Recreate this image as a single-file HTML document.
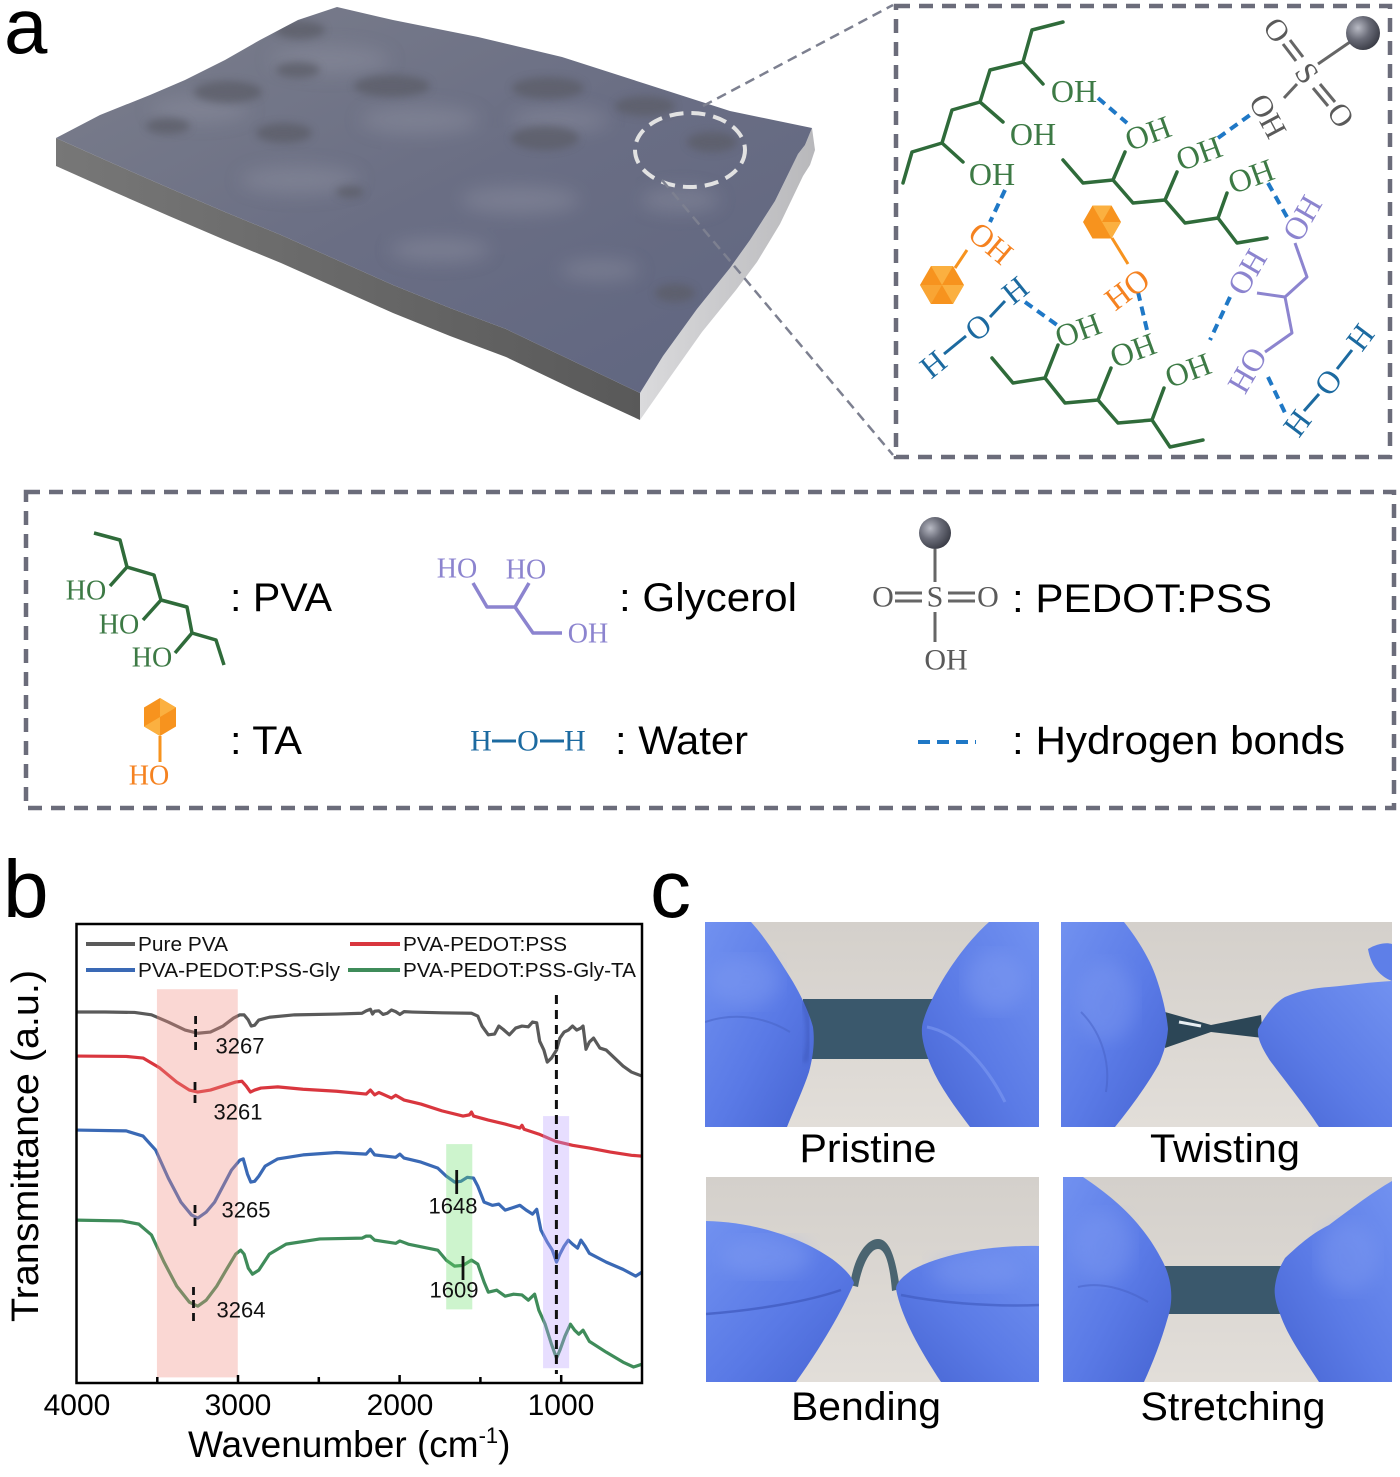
<!DOCTYPE html>
<html><head><meta charset="utf-8"><style>
html,body{margin:0;padding:0;background:#fff;}
svg{display:block;}
</style></head><body>
<svg width="1400" height="1477" viewBox="0 0 1400 1477" xmlns="http://www.w3.org/2000/svg">
<defs>
  <linearGradient id="topG" x1="0" y1="0" x2="1" y2="1">
    <stop offset="0" stop-color="#7c7f8c"/><stop offset="0.5" stop-color="#6a6e84"/><stop offset="1" stop-color="#5f6580"/>
  </linearGradient>
  <linearGradient id="leftG" x1="0" y1="0" x2="1" y2="0">
    <stop offset="0" stop-color="#777"/><stop offset="1" stop-color="#595959"/>
  </linearGradient>
  <linearGradient id="rightG" x1="0" y1="0" x2="1" y2="0">
    <stop offset="0" stop-color="#dadadc"/><stop offset="1" stop-color="#b8b8bb"/>
  </linearGradient>
  <radialGradient id="ball" cx="0.35" cy="0.35" r="0.7">
    <stop offset="0" stop-color="#b8bac4"/><stop offset="0.5" stop-color="#6a6c78"/><stop offset="1" stop-color="#3a3c46"/>
  </radialGradient>
  <filter id="blur8"><feGaussianBlur stdDeviation="9"/></filter>
  <filter id="blur3"><feGaussianBlur stdDeviation="4"/></filter>
  <filter id="blur2"><feGaussianBlur stdDeviation="2.5"/></filter>
  <clipPath id="topClip"><path d="M56,138 L100,115 L150,95 L185,80 L225,60 L260,40 L298,20 L337,7 L393,20 L478,37 L562,57 L646,84 L730,111 L812,128 L805,145 L798,154 L775,201 L750,240 L730,268 L697,309 L663,356 L640,393 L575,362 L506,329 L450,308 L393,285 L337,260 L281,235 L225,212 L169,188 L112,163 Z"/></clipPath>
  <linearGradient id="bg" x1="0" y1="0" x2="0" y2="1">
    <stop offset="0" stop-color="#d4d0cb"/><stop offset="1" stop-color="#e2ded9"/>
  </linearGradient>
  <linearGradient id="glove" x1="0" y1="0" x2="1" y2="1">
    <stop offset="0" stop-color="#7191f0"/><stop offset="0.55" stop-color="#5a7ae6"/><stop offset="1" stop-color="#4664d2"/>
  </linearGradient>
  <linearGradient id="glove2" x1="1" y1="0" x2="0" y2="1">
    <stop offset="0" stop-color="#7191f0"/><stop offset="0.55" stop-color="#5b7be6"/><stop offset="1" stop-color="#4664d2"/>
  </linearGradient>
  <clipPath id="ph1"><rect x="0" y="0" width="334" height="205"/></clipPath>
  <clipPath id="ph2"><rect x="0" y="0" width="331" height="205"/></clipPath>
  <clipPath id="ph3"><rect x="0" y="0" width="333" height="205"/></clipPath>
  <clipPath id="ph4"><rect x="0" y="0" width="329" height="205"/></clipPath>
</defs>

<rect width="1400" height="1477" fill="#fff"/>

<!-- ===== Panel a ===== -->
<text x="4" y="53" font-family="Liberation Sans, sans-serif" font-size="78" fill="#000">a</text>

<!-- slab -->
<path d="M56,138 L112,163 L169,188 L225,212 L281,235 L337,260 L393,285 L450,308 L506,329 L575,362 L640,393 L640,420 L575,390 L506,357 L450,336 L393,313 L337,288 L281,263 L225,240 L169,216 L112,191 L56,166 Z" fill="url(#leftG)"/>
<path d="M812,128 L805,145 L798,154 L775,201 L750,240 L730,268 L697,309 L663,356 L640,393 L640,420 L668,380 L702,332 L736,290 L757,262 L780,224 L803,176 L810,165 L815,150 Z" fill="url(#rightG)"/>
<path d="M56,138 L100,115 L150,95 L185,80 L225,60 L260,40 L298,20 L337,7 L393,20 L478,37 L562,57 L646,84 L730,111 L812,128 L805,145 L798,154 L775,201 L750,240 L730,268 L697,309 L663,356 L640,393 L575,362 L506,329 L450,308 L393,285 L337,260 L281,235 L225,212 L169,188 L112,163 Z" fill="url(#topG)"/>
<g clip-path="url(#topClip)">
  <g filter="url(#blur8)" fill="#8f92a2" opacity="0.45">
    <ellipse cx="330" cy="60" rx="60" ry="14"/>
    <ellipse cx="200" cy="110" rx="50" ry="12"/>
    <ellipse cx="420" cy="120" rx="60" ry="14"/>
    <ellipse cx="560" cy="120" rx="50" ry="12"/>
    <ellipse cx="300" cy="180" rx="60" ry="14"/>
    <ellipse cx="520" cy="200" rx="60" ry="14"/>
    <ellipse cx="680" cy="200" rx="40" ry="12"/>
    <ellipse cx="440" cy="250" rx="50" ry="12"/>
    <ellipse cx="600" cy="270" rx="40" ry="10"/>
  </g>
  <g filter="url(#blur3)" fill="#5b5d68" opacity="0.75">
    <ellipse cx="392" cy="86" rx="38" ry="11"/>
    <ellipse cx="298" cy="70" rx="22" ry="8"/>
    <ellipse cx="548" cy="88" rx="36" ry="11"/>
    <ellipse cx="228" cy="92" rx="34" ry="11"/>
    <ellipse cx="545" cy="138" rx="34" ry="12"/>
    <ellipse cx="284" cy="133" rx="28" ry="10"/>
    <ellipse cx="168" cy="126" rx="22" ry="8"/>
    <ellipse cx="645" cy="106" rx="30" ry="10"/>
    <ellipse cx="712" cy="142" rx="25" ry="10"/>
    <ellipse cx="350" cy="192" rx="14" ry="6"/>
    <ellipse cx="675" cy="293" rx="20" ry="9"/>
    <ellipse cx="300" cy="30" rx="25" ry="9"/>
  </g>
</g>
<ellipse cx="690" cy="150" rx="55" ry="37" fill="none" stroke="#e2e2e2" stroke-width="4" stroke-dasharray="14 8"/>
<line x1="703" y1="106" x2="893" y2="5" stroke="#7d8090" stroke-width="2.5" stroke-dasharray="10 6"/>
<line x1="662" y1="180" x2="893" y2="455" stroke="#7d8090" stroke-width="2.5" stroke-dasharray="10 6"/>

<!-- inset box -->
<rect x="896" y="6" width="494" height="451" fill="none" stroke="#6b6c7a" stroke-width="4.5" stroke-dasharray="14 9"/>

<!-- H-bonds inset -->
<g stroke="#1f78c6" stroke-width="4" stroke-dasharray="9 6" fill="none">
  <line x1="1098" y1="98" x2="1127" y2="123"/>
  <line x1="1218" y1="138" x2="1250" y2="115"/>
  <line x1="1005" y1="190" x2="990" y2="222"/>
  <line x1="1268" y1="183" x2="1287" y2="217"/>
  <line x1="1025" y1="302" x2="1057" y2="325"/>
  <line x1="1138" y1="292" x2="1147" y2="330"/>
  <line x1="1230" y1="297" x2="1210" y2="340"/>
  <line x1="1268" y1="377" x2="1287" y2="417"/>
</g>

<!-- PVA chains -->
<g stroke="#2f6b3a" stroke-width="3.5" fill="none" stroke-linejoin="round" stroke-linecap="round">
  <polyline points="903,183 912,152 942,143 952,110 980,102 990,70 1023,62 1032,30 1063,22"/>
  <line x1="942" y1="143" x2="963" y2="162"/><line x1="980" y1="102" x2="1003" y2="122"/><line x1="1023" y1="62" x2="1043" y2="84"/>
  <polyline points="1063,160 1083,183 1113,180 1133,203 1165,200 1185,223 1218,218 1237,243 1267,238"/>
  <line x1="1113" y1="180" x2="1125" y2="152"/><line x1="1165" y1="200" x2="1177" y2="172"/><line x1="1218" y1="218" x2="1227" y2="193"/>
  <polyline points="992,358 1013,383 1045,378 1065,403 1098,400 1118,423 1152,420 1170,447 1203,440"/>
  <line x1="1045" y1="378" x2="1058" y2="345"/><line x1="1098" y1="400" x2="1111" y2="368"/><line x1="1152" y1="420" x2="1164" y2="388"/>
</g>
<g font-family="Liberation Serif, serif" font-size="32" fill="#3d7a45" text-anchor="middle" dominant-baseline="central">
  <text x="992" y="174">OH</text>
  <text x="1033" y="134">OH</text>
  <text x="1074" y="91">OH</text>
  <text transform="translate(1148,133) rotate(-20)">OH</text>
  <text transform="translate(1199,153) rotate(-20)">OH</text>
  <text transform="translate(1251,176) rotate(-20)">OH</text>
  <text transform="translate(1078,330) rotate(-20)">OH</text>
  <text transform="translate(1133,350) rotate(-20)">OH</text>
  <text transform="translate(1188,370) rotate(-20)">OH</text>
</g>

<!-- PSS inset -->
<g stroke="#666" stroke-width="3" fill="none">
  <line x1="1318" y1="64" x2="1350" y2="42"/>
  <line x1="1283" y1="44" x2="1296" y2="61"/><line x1="1290" y1="40" x2="1303" y2="57"/>
  <line x1="1313" y1="88" x2="1328" y2="106"/><line x1="1320" y1="84" x2="1335" y2="102"/>
  <line x1="1297" y1="84" x2="1284" y2="98"/>
</g>
<circle cx="1363" cy="33" r="17" fill="url(#ball)"/>
<g font-family="Liberation Serif, serif" font-size="31" fill="#5a5a5a" text-anchor="middle" dominant-baseline="central">
  <text transform="translate(1277,30) rotate(55)">O</text>
  <text transform="translate(1307,73) rotate(55)">S</text>
  <text transform="translate(1341,115) rotate(55)">O</text>
  <text transform="translate(1268,116) rotate(62)">OH</text>
</g>

<!-- TA inset -->
<g>
  <polygon points="920,285 931,266 953,266 964,285 953,304 931,304" fill="#f7931e"/>
  <polygon points="942,285 931,266 953,266" fill="#fbb040"/>
  <polygon points="942,285 964,285 953,304" fill="#fbb040"/>
  <polygon points="942,285 920,285 931,304" fill="#f9a534"/>
  <line x1="955" y1="268" x2="967" y2="250" stroke="#f7931e" stroke-width="3"/>
  <polygon points="1083,222 1092.5,205.5 1111.5,205.5 1121,222 1111.5,238.5 1092.5,238.5" fill="#f7931e"/>
  <polygon points="1102,222 1092.5,205.5 1111.5,205.5" fill="#fbb040"/>
  <polygon points="1102,222 1121,222 1111.5,238.5" fill="#fbb040"/>
  <line x1="1112" y1="238" x2="1128" y2="264" stroke="#f7931e" stroke-width="3"/>
</g>
<g font-family="Liberation Serif, serif" font-size="32" fill="#f58220" text-anchor="middle" dominant-baseline="central">
  <text transform="translate(991,243) rotate(40)">OH</text>
  <text transform="translate(1127,289) rotate(-37)">HO</text>
</g>

<!-- Water inset -->
<g stroke="#1c6aa0" stroke-width="3">
  <line x1="944" y1="354" x2="966" y2="336"/><line x1="990" y1="317" x2="1005" y2="301"/>
  <line x1="1304" y1="411" x2="1319" y2="394"/><line x1="1337" y1="369" x2="1352" y2="350"/>
</g>
<g font-family="Liberation Serif, serif" font-size="32" fill="#1c6aa0" text-anchor="middle" dominant-baseline="central">
  <text transform="translate(933,364) rotate(-39)">H</text>
  <text transform="translate(978,327) rotate(-39)">O</text>
  <text transform="translate(1015,290) rotate(-39)">H</text>
  <text transform="translate(1297,423) rotate(-53)">H</text>
  <text transform="translate(1328,382) rotate(-53)">O</text>
  <text transform="translate(1360,337) rotate(-53)">H</text>
</g>

<!-- Glycerol inset -->
<g stroke="#8c84cf" stroke-width="3" fill="none" stroke-linejoin="round">
  <polyline points="1295,243 1307,277 1285,297 1292,333 1265,352"/>
  <line x1="1285" y1="297" x2="1257" y2="293"/>
</g>
<g font-family="Liberation Serif, serif" font-size="32" fill="#8c84cf" text-anchor="middle" dominant-baseline="central">
  <text transform="translate(1302,218) rotate(-60)">OH</text>
  <text transform="translate(1247,272) rotate(-60)">OH</text>
  <text transform="translate(1247,370) rotate(-60)">HO</text>
</g>

<!-- ===== Legend box ===== -->
<rect x="26" y="492" width="1368" height="316" fill="none" stroke="#6b6c7a" stroke-width="4.5" stroke-dasharray="14 9"/>

<g stroke="#2f6b3a" stroke-width="3.5" fill="none" stroke-linejoin="round">
  <polyline points="94,533 120,540 127,567 154,575 161,600 187,607 192,633 216,640 224,665"/>
  <line x1="127" y1="567" x2="110" y2="586"/><line x1="161" y1="600" x2="143" y2="620"/><line x1="192" y1="633" x2="175" y2="653"/>
</g>
<g font-family="Liberation Serif, serif" font-size="28" fill="#3d7a45" text-anchor="middle" dominant-baseline="central">
  <text x="86" y="591">HO</text><text x="119" y="625">HO</text><text x="152" y="658">HO</text>
</g>
<g stroke="#8c84cf" stroke-width="3.5" fill="none" stroke-linejoin="round">
  <polyline points="473,583 487,607 515,607 529,583"/>
  <polyline points="515,607 533,633 562,633"/>
</g>
<g font-family="Liberation Serif, serif" font-size="28" fill="#8c84cf" text-anchor="middle" dominant-baseline="central">
  <text x="457" y="569">HO</text><text x="526" y="570">HO</text><text x="588" y="634">OH</text>
</g>
<circle cx="935" cy="533" r="16" fill="url(#ball)"/>
<g stroke="#666" stroke-width="3">
  <line x1="935" y1="549" x2="935" y2="582"/>
  <line x1="935" y1="612" x2="935" y2="642"/>
  <line x1="895" y1="593" x2="922" y2="593"/><line x1="895" y1="601" x2="922" y2="601"/>
  <line x1="948" y1="593" x2="975" y2="593"/><line x1="948" y1="601" x2="975" y2="601"/>
</g>
<g font-family="Liberation Serif, serif" font-size="30" fill="#5a5a5a" text-anchor="middle" dominant-baseline="central">
  <text x="883" y="597">O</text><text x="935" y="597">S</text><text x="988" y="597">O</text><text x="946" y="660">OH</text>
</g>
<polygon points="160,698 176,707.5 176,726.5 160,736 144,726.5 144,707.5" fill="#f7931e"/>
<polygon points="160,717 160,698 176,707.5" fill="#fbb040"/>
<polygon points="160,717 144,726.5 160,736" fill="#fbb040"/>
<line x1="160" y1="736" x2="160" y2="762" stroke="#f7931e" stroke-width="3"/>
<text x="149" y="776" font-family="Liberation Serif, serif" font-size="28" fill="#f58220" text-anchor="middle" dominant-baseline="central">HO</text>
<g font-family="Liberation Serif, serif" font-size="30" fill="#1c6aa0" text-anchor="middle" dominant-baseline="central">
  <text x="481" y="741">H</text><text x="528" y="741">O</text><text x="575" y="741">H</text>
</g>
<g stroke="#1c6aa0" stroke-width="3"><line x1="492" y1="741" x2="516" y2="741"/><line x1="540" y1="741" x2="564" y2="741"/></g>
<line x1="918" y1="742" x2="976" y2="742" stroke="#1f78c6" stroke-width="4" stroke-dasharray="12 7"/>

<g font-family="Liberation Sans, sans-serif" font-size="40" fill="#000">
  <text x="230" y="611" textLength="102" lengthAdjust="spacingAndGlyphs">: PVA</text>
  <text x="619" y="611" textLength="178" lengthAdjust="spacingAndGlyphs">: Glycerol</text>
  <text x="1012" y="612" textLength="260" lengthAdjust="spacingAndGlyphs">: PEDOT:PSS</text>
  <text x="230" y="754" textLength="72" lengthAdjust="spacingAndGlyphs">: TA</text>
  <text x="615" y="754" textLength="133" lengthAdjust="spacingAndGlyphs">: Water</text>
  <text x="1012" y="754" textLength="333" lengthAdjust="spacingAndGlyphs">: Hydrogen bonds</text>
</g>

<!-- ===== Panel b ===== -->
<text x="3" y="917" font-family="Liberation Sans, sans-serif" font-size="82" fill="#000">b</text>

<g transform="translate(76.5,924) scale(0.42107,0.40017) translate(-182,-185)">
  <g fill="none" stroke-width="3.2" stroke-linejoin="round">
    <path vector-effect="non-scaling-stroke" stroke="#5a5a5a" d="M182,405 L250,405 L320,406 L360,412 L400,430 L440,450 L470,458 L500,455 L530,440 L555,420 L570,412 L580,412 L590,425 L597,440 L605,438 L615,425 L640,418 L700,412 L800,410 L860,408 L870,402 L880,398 L885,410 L890,403 L900,402 L910,411 L920,408 L930,400 L940,404 L950,411 L960,404 L980,405 L1050,407 L1120,408 L1135,415 L1145,440 L1160,462 L1175,460 L1185,440 L1195,448 L1210,462 L1225,445 L1240,440 L1255,442 L1265,430 L1275,432 L1282,478 L1292,500 L1300,530 L1310,520 L1322,500 L1330,470 L1340,455 L1350,450 L1360,440 L1370,450 L1380,445 L1385,440 L1392,498 L1400,480 L1410,470 L1425,495 L1440,500 L1460,520 L1480,540 L1500,555 L1525,565"/>
    <path vector-effect="non-scaling-stroke" stroke="#d9363e" d="M182,515 L300,516 L340,520 L380,545 L420,580 L450,600 L470,605 L500,600 L530,590 L560,580 L575,578 L585,590 L595,605 L605,600 L620,595 L660,592 L720,598 L800,603 L870,610 L880,600 L890,612 L900,606 L930,620 L940,613 L960,625 L1000,635 L1050,652 L1100,665 L1115,662 L1120,655 L1125,665 L1160,675 L1200,685 L1235,695 L1240,688 L1245,698 L1280,710 L1320,728 L1360,738 L1400,745 L1450,755 L1500,763 L1525,765"/>
    <path vector-effect="non-scaling-stroke" stroke="#3a69b5" d="M182,700 L300,702 L340,715 L370,750 L400,820 L430,880 L455,912 L470,920 L490,905 L510,880 L530,840 L550,800 L570,775 L578,772 L588,810 L596,830 L605,828 L615,815 L630,790 L660,772 L720,762 L800,756 L870,760 L880,748 L890,762 L940,768 L950,760 L960,770 L1000,780 L1040,795 L1060,815 L1080,830 L1095,828 L1110,818 L1125,820 L1135,840 L1150,880 L1170,888 L1185,885 L1200,900 L1215,895 L1235,888 L1250,900 L1265,910 L1275,898 L1285,950 L1300,980 L1312,1000 L1322,1030 L1330,1010 L1340,990 L1350,975 L1360,985 L1372,995 L1380,975 L1390,990 L1400,1008 L1440,1030 L1480,1048 L1510,1065 L1525,1055"/>
    <path vector-effect="non-scaling-stroke" stroke="#3f8c5a" d="M182,925 L290,927 L330,935 L360,962 L390,1030 L420,1090 L450,1130 L470,1140 L490,1125 L515,1090 L540,1045 L560,1010 L572,1000 L580,1010 L590,1045 L600,1060 L615,1050 L640,1010 L680,985 L760,972 L860,970 L870,965 L880,965 L890,975 L940,983 L950,977 L970,985 L1040,1000 L1060,1025 L1080,1040 L1100,1038 L1120,1025 L1135,1035 L1150,1080 L1160,1105 L1180,1100 L1200,1115 L1220,1110 L1240,1112 L1255,1125 L1270,1110 L1280,1150 L1295,1185 L1310,1235 L1322,1270 L1330,1250 L1342,1215 L1355,1185 L1365,1200 L1375,1210 L1385,1200 L1400,1228 L1440,1255 L1480,1280 L1505,1292 L1525,1285"/>
  </g>
  <rect x="373" y="348" width="192" height="970" fill="#f08c80" opacity="0.35"/>
  <rect x="1060" y="735" width="62" height="413" fill="#66dd66" opacity="0.33"/>
  <rect x="1290" y="665" width="62" height="630" fill="#b9a0ff" opacity="0.35"/>
</g>

<g stroke="#111" stroke-width="3" stroke-dasharray="9 6">
  <line x1="556.4" y1="995" x2="556.4" y2="1374"/>
</g>
<g stroke="#111" stroke-width="2.8" stroke-dasharray="8 5">
  <line x1="195.6" y1="1016" x2="195.6" y2="1052"/>
  <line x1="195" y1="1082" x2="195" y2="1104"/>
  <line x1="195" y1="1205" x2="195" y2="1228"/>
  <line x1="193.5" y1="1287" x2="193.5" y2="1322"/>
</g>
<g stroke="#111" stroke-width="2.8">
  <line x1="456.7" y1="1170" x2="456.7" y2="1194"/>
  <line x1="463" y1="1256" x2="463" y2="1280"/>
</g>

<rect x="76.5" y="924" width="565.5" height="459" fill="none" stroke="#000" stroke-width="2.5"/>
<g stroke="#000" stroke-width="2.5">
  <line x1="157.3" y1="1383" x2="157.3" y2="1377"/>
  <line x1="238" y1="1383" x2="238" y2="1375"/>
  <line x1="318.8" y1="1383" x2="318.8" y2="1377"/>
  <line x1="399.6" y1="1383" x2="399.6" y2="1375"/>
  <line x1="480.4" y1="1383" x2="480.4" y2="1377"/>
  <line x1="561.2" y1="1383" x2="561.2" y2="1375"/>
</g>

<g stroke-width="4">
  <line x1="86" y1="944" x2="135" y2="944" stroke="#5a5a5a"/>
  <line x1="350" y1="944" x2="400" y2="944" stroke="#d9363e"/>
  <line x1="86" y1="970" x2="135" y2="970" stroke="#3a69b5"/>
  <line x1="348" y1="970" x2="400" y2="970" stroke="#3f8c5a"/>
</g>
<g font-family="Liberation Sans, sans-serif" font-size="20" fill="#111">
  <text x="138" y="951" textLength="90" lengthAdjust="spacingAndGlyphs">Pure PVA</text>
  <text x="403" y="951" textLength="164" lengthAdjust="spacingAndGlyphs">PVA-PEDOT:PSS</text>
  <text x="138" y="977" textLength="202" lengthAdjust="spacingAndGlyphs">PVA-PEDOT:PSS-Gly</text>
  <text x="403" y="977" textLength="233" lengthAdjust="spacingAndGlyphs">PVA-PEDOT:PSS-Gly-TA</text>
</g>

<g font-family="Liberation Sans, sans-serif" font-size="22" fill="#111" text-anchor="middle" dominant-baseline="central">
  <text x="240" y="1046">3267</text>
  <text x="238" y="1112">3261</text>
  <text x="246" y="1210">3265</text>
  <text x="241" y="1310">3264</text>
  <text x="453" y="1206">1648</text>
  <text x="454" y="1290">1609</text>
</g>

<g font-family="Liberation Sans, sans-serif" font-size="30" fill="#000" text-anchor="middle">
  <text x="77" y="1415">4000</text>
  <text x="238" y="1415">3000</text>
  <text x="400" y="1415">2000</text>
  <text x="561" y="1415">1000</text>
</g>
<text x="188" y="1457" font-family="Liberation Sans, sans-serif" font-size="37" fill="#000">Wavenumber (cm<tspan dy="-14" font-size="22">-1</tspan><tspan dy="14">)</tspan></text>
<text transform="translate(38,1146) rotate(-90)" text-anchor="middle" font-family="Liberation Sans, sans-serif" font-size="38" fill="#000" textLength="352" lengthAdjust="spacingAndGlyphs">Transmittance (a.u.)</text>

<!-- ===== Panel c ===== -->
<text x="650" y="917" font-family="Liberation Sans, sans-serif" font-size="82" fill="#000">c</text>

<!-- Pristine -->
<g transform="translate(705,922)" clip-path="url(#ph1)">
  <rect width="334" height="205" fill="url(#bg)"/>
  <rect x="98" y="77" width="132" height="60" fill="#3a586c"/>
  <path d="M0,0 L46,0 C60,15 75,39 85,55 C95,71 104,90 108,105 C110,120 108,135 104,150 C98,168 90,185 82,205 L0,205 Z" fill="url(#glove)"/>
  <ellipse cx="40" cy="60" rx="35" ry="25" fill="#8aa4f4" opacity="0.35" filter="url(#blur8)"/>
  <path d="M0,100 C30,90 60,95 85,110" stroke="#4a66c8" stroke-width="2" fill="none" opacity="0.6"/>
  <path d="M98,80 C104,95 106,120 100,140" stroke="#2a3f9a" stroke-width="4" fill="none" opacity="0.4" filter="url(#blur2)"/>
  <path d="M284,0 L334,0 L334,205 L265,205 C250,185 235,165 226,144 C218,125 215,110 218,100 C222,85 235,60 250,39 C262,22 275,8 284,0 Z" fill="url(#glove2)"/>
  <ellipse cx="290" cy="60" rx="30" ry="30" fill="#8aa4f4" opacity="0.35" filter="url(#blur8)"/>
  <path d="M222,105 C250,110 280,140 300,180" stroke="#7d9af2" stroke-width="3" fill="none" opacity="0.6"/>
</g>
<!-- Twisting -->
<g transform="translate(1061,922)" clip-path="url(#ph2)">
  <rect width="331" height="205" fill="url(#bg)"/>
  <path d="M104,90 L150,103 L200,93 L202,116 L150,110 L104,126 Z" fill="#2c4656"/>
  <path d="M118,100 L140,104" stroke="#e8eef2" stroke-width="3"/>
  <path d="M0,0 L63,0 C75,15 88,35 95,55 C102,75 106,95 107,107 C106,120 103,130 98,142 C85,165 70,185 54,205 L0,205 Z" fill="url(#glove)"/>
  <ellipse cx="45" cy="80" rx="30" ry="40" fill="#8aa4f4" opacity="0.3" filter="url(#blur8)"/>
  <path d="M20,90 C40,110 50,140 45,170" stroke="#4560c4" stroke-width="2" fill="none" opacity="0.5"/>
  <path d="M331,59 L331,205 L258,205 C245,185 225,160 210,140 C200,125 196,115 197,107 C205,92 215,80 224,75 C240,68 255,66 268,65 C290,63 310,60 331,59 Z" fill="url(#glove2)"/>
  <path d="M307,27 C315,22 325,20 331,22 L331,59 C320,55 310,45 307,27 Z" fill="#5e7fe8"/>
</g>
<!-- Bending -->
<g transform="translate(706,1177)" clip-path="url(#ph3)">
  <rect width="333" height="205" fill="url(#bg)"/>
  <path d="M144,108 C148,80 160,62 172,62 C185,62 190,85 194,112 L186,114 C184,90 180,72 172,72 C164,72 156,88 152,110 Z" fill="#4a6470"/>
  <path d="M0,44 C50,45 100,62 130,85 C140,93 146,100 148,106 C140,125 122,160 90,205 L0,205 Z" fill="url(#glove)"/>
  <ellipse cx="60" cy="80" rx="45" ry="20" fill="#8aa4f4" opacity="0.35" filter="url(#blur8)"/>
  <path d="M0,137 C50,133 100,125 135,113" stroke="#3e58bc" stroke-width="2.5" fill="none" opacity="0.7"/>
  <path d="M333,69 C290,68 240,75 206,93 C196,100 190,106 190,112 C195,140 215,175 235,205 L333,205 Z" fill="url(#glove2)"/>
  <ellipse cx="270" cy="95" rx="45" ry="18" fill="#8aa4f4" opacity="0.3" filter="url(#blur8)"/>
  <path d="M195,118 C230,125 280,130 333,128" stroke="#3e58bc" stroke-width="2.5" fill="none" opacity="0.6"/>
</g>
<!-- Stretching -->
<g transform="translate(1063,1177)" clip-path="url(#ph4)">
  <rect width="329" height="205" fill="url(#bg)"/>
  <rect x="100" y="89" width="122" height="48" fill="#3a586c"/>
  <path d="M0,0 L20,0 C50,20 80,45 100,85 C110,105 110,125 105,140 C98,165 90,185 81,205 L0,205 Z" fill="url(#glove)"/>
  <ellipse cx="40" cy="70" rx="30" ry="35" fill="#8aa4f4" opacity="0.3" filter="url(#blur8)"/>
  <path d="M15,110 C35,105 60,110 85,125" stroke="#4560c4" stroke-width="2" fill="none" opacity="0.5"/>
  <path d="M329,4 L329,205 L256,205 C240,180 225,160 217,137 C212,125 211,115 212,109 C214,95 218,88 222,81 C238,66 250,56 266,48 C290,30 310,15 329,4 Z" fill="url(#glove2)"/>
  <ellipse cx="285" cy="80" rx="30" ry="35" fill="#8aa4f4" opacity="0.3" filter="url(#blur8)"/>
</g>

<g font-family="Liberation Sans, sans-serif" font-size="40" fill="#000" text-anchor="middle">
  <text x="868" y="1162" textLength="137" lengthAdjust="spacingAndGlyphs">Pristine</text>
  <text x="1225" y="1162" textLength="150" lengthAdjust="spacingAndGlyphs">Twisting</text>
  <text x="866" y="1420" textLength="150" lengthAdjust="spacingAndGlyphs">Bending</text>
  <text x="1233" y="1420" textLength="185" lengthAdjust="spacingAndGlyphs">Stretching</text>
</g>
</svg>
</body></html>
